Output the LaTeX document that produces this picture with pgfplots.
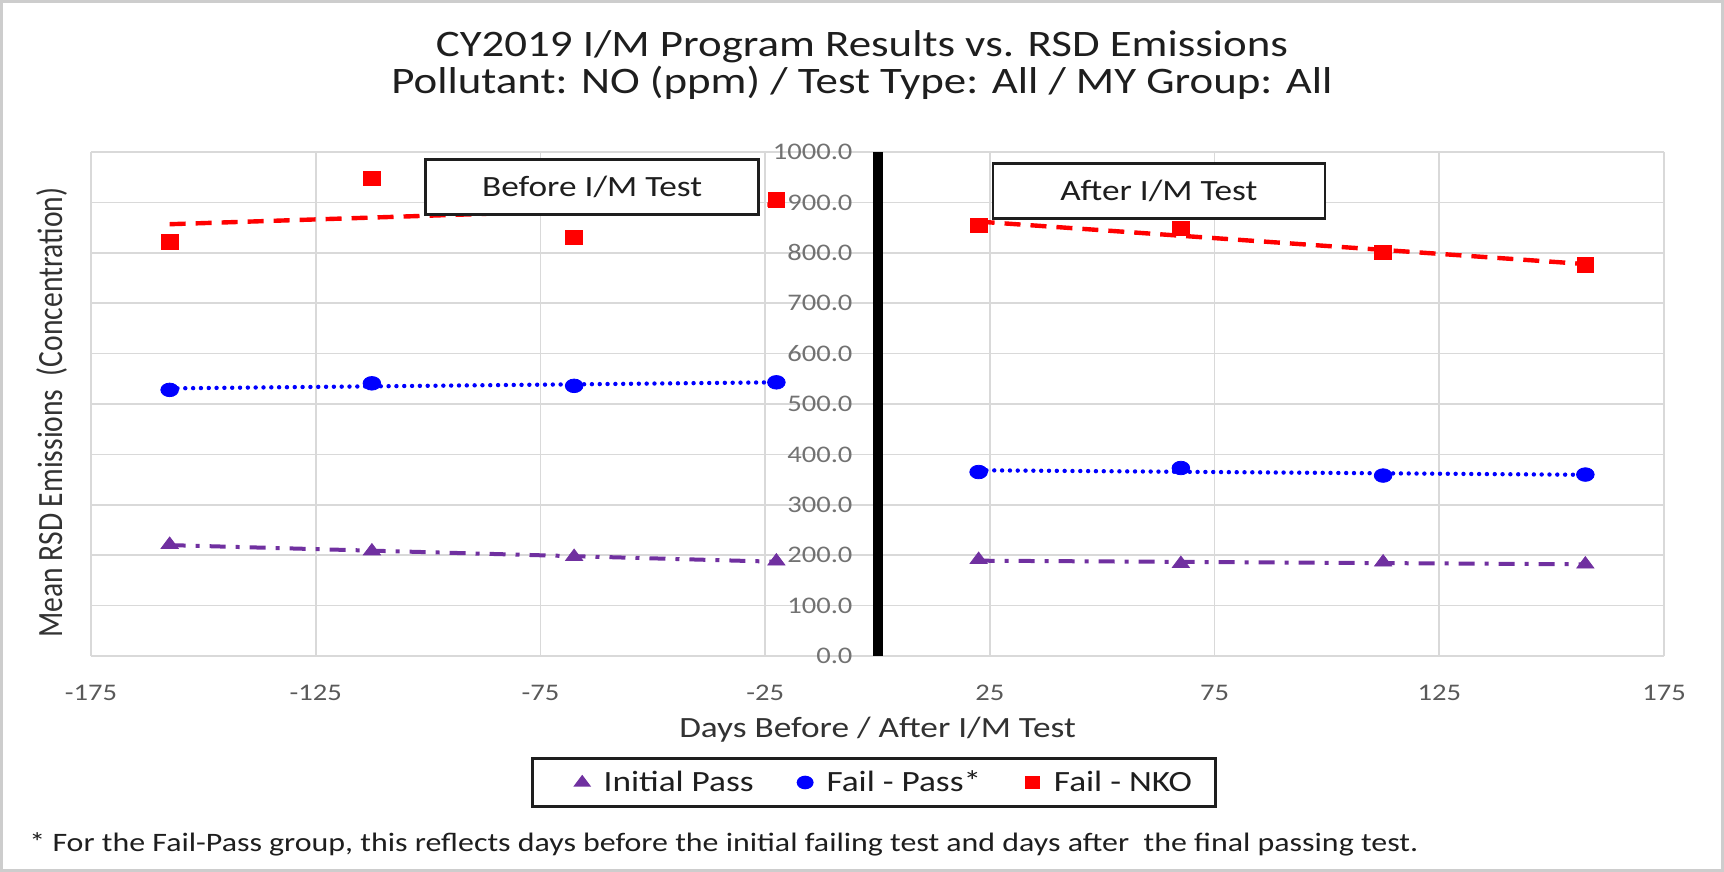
\documentclass[border=0pt]{standalone}
\usepackage{fontspec}
\setmainfont{Carlito}[FakeStretch=1.2]
\newfontfamily\plainfont{Carlito}
\usepackage{graphicx}
\usepackage{pgfplots}
\pgfplotsset{compat=1.18}
\definecolor{ipass}{RGB}{112,48,160}
\definecolor{fpass}{RGB}{0,0,255}
\definecolor{fnko}{RGB}{255,0,0}
\definecolor{gridc}{RGB}{217,217,217}
\definecolor{tickc}{RGB}{89,89,89}
\definecolor{labc}{RGB}{50,50,50}
\definecolor{titc}{RGB}{30,30,30}
\definecolor{framec}{RGB}{205,205,205}

\begin{document}
\begin{tikzpicture}
\path[use as bounding box] (0,0) rectangle (862pt,436pt);
\draw[framec, line width=1.5pt] (0.75pt,0.75pt) rectangle (861.25pt,435.25pt);

% titles
\node[anchor=base, text=titc, font=\fontsize{18.7}{20}\selectfont] at (431pt,407.7pt)
  {CY2019 I/M Program Results vs. RSD Emissions};
\node[anchor=base, text=titc, font=\fontsize{18.7}{20}\selectfont] at (431pt,389pt)
  {Pollutant: NO (ppm) / Test Type: All / MY Group: All};

\begin{axis}[
  at={(45.5pt,108pt)}, anchor=south west,
  scale only axis, width=786.5pt, height=252pt,
  xmin=-175, xmax=175, ymin=0, ymax=1000,
  xtick={-175,-125,...,175}, ytick={0,100,...,1000},
  grid=major, grid style={gridc, line width=0.8pt},
  axis x line=bottom, axis y line=middle,
  x axis line style={gridc, line width=0.8pt, -},
  y axis line style={black, line width=5pt, -},
  major tick length=0pt,
  hide obscured y ticks=false,
  /pgf/number format/assume math mode=true,
  xticklabel style={anchor=center, yshift=-18.5pt, text=tickc,
    font=\fontsize{11.9}{13}\selectfont},
  yticklabel style={anchor=east, xshift=-9pt, text=tickc!85,
    font=\fontsize{11.9}{13}\selectfont,
    /pgf/number format/.cd, fixed, fixed zerofill, precision=1, 1000 sep={}},
  legend columns=3,
  legend style={at={(axis description cs:0.498,-0.251)}, anchor=center,
    draw=titc, line width=1.4pt, inner xsep=10pt, inner ysep=4pt,
    font=\fontsize{14.7}{16}\selectfont, text=titc,
    /tikz/every even column/.append style={column sep=9pt}},
  legend image code/.code={\draw[#1, mark size=2.7pt] plot coordinates {(0.25cm,0)};
    \path (0.25cm-14pt,0) (0.25cm+8pt,0);},
]

% linear trend lines (before and after the test)
\addplot[ipass, line width=2pt, dash pattern=on 8pt off 5pt on 2pt off 5pt, forget plot]
  coordinates {(-157.5,220.0) (-22.5,187.0)};
\addplot[ipass, line width=2pt, dash pattern=on 8pt off 5pt on 2pt off 5pt, forget plot]
  coordinates {(22.5,189.1) (157.5,181.9)};
\addplot[fpass, line width=2.2pt, line cap=round, dash pattern=on 0.01pt off 3.9pt, forget plot]
  coordinates {(-157.5,531.0) (-22.5,543.0)};
\addplot[fpass, line width=2.2pt, line cap=round, dash pattern=on 0.01pt off 3.9pt, forget plot]
  coordinates {(22.5,368.5) (157.5,359.5)};
\addplot[fnko, line width=2.2pt, dash pattern=on 8pt off 5pt, forget plot]
  coordinates {(-157.5,856.7) (-22.5,896.3)};
\addplot[fnko, line width=2.2pt, dash pattern=on 8pt off 5pt, forget plot]
  coordinates {(22.5,861.9) (157.5,777.6)};

% markers
\addplot[only marks, mark=triangle*, color=ipass, mark size=3.8pt, mark options={xscale=1.3}]
  coordinates {(-157.5,221) (-112.5,208) (-67.5,197) (-22.5,188)
               (22.5,191) (67.5,183) (112.5,186) (157.5,182)};
\addlegendentry{Initial Pass}
\addplot[only marks, mark=*, color=fpass, mark size=3.4pt, mark options={xscale=1.3}]
  coordinates {(-157.5,528) (-112.5,541) (-67.5,536) (-22.5,543)
               (22.5,365) (67.5,373) (112.5,358) (157.5,360)};
\addlegendentry{Fail - Pass*}
\addplot[only marks, mark=square*, color=fnko, mark size=3.6pt, mark options={xscale=1.15}]
  coordinates {(-157.5,822) (-112.5,948) (-67.5,831) (-22.5,905)
               (22.5,854) (67.5,848) (112.5,801) (157.5,776)};
\addlegendentry{Fail - NKO}

\node[draw=titc, line width=1.3pt, fill=white, minimum width=166.5pt, minimum height=27.5pt,
  inner sep=0pt, text=titc, font=\fontsize{14.7}{16}\selectfont] at (axis cs:-63.5,930) {Before I/M Test};
\node[draw=titc, line width=1.3pt, fill=white, minimum width=166pt, minimum height=27.5pt,
  inner sep=0pt, text=titc, font=\fontsize{14.7}{16}\selectfont] at (axis cs:62.6,923) {After I/M Test};
\end{axis}

% axis titles
\node[anchor=base, text=labc, font=\fontsize{14.7}{16}\selectfont] at (438.75pt,67pt)
  {Days Before / After I/M Test};
\node[rotate=90, text=labc, font=\plainfont\fontsize{14.8}{16}\selectfont] at (25.75pt,229.75pt)
  {\scalebox{1}[1.2]{Mean RSD Emissions\ \ (Concentration)}};

% footnote
\node[anchor=base west, inner sep=0pt, text=titc, font=\fontsize{13.3}{14}\selectfont] at (14.5pt,10.2pt)
  {* For the Fail-Pass group, this reflects days before the initial failing test and days after\ \ the final passing test.};
\end{tikzpicture}
\end{document}
